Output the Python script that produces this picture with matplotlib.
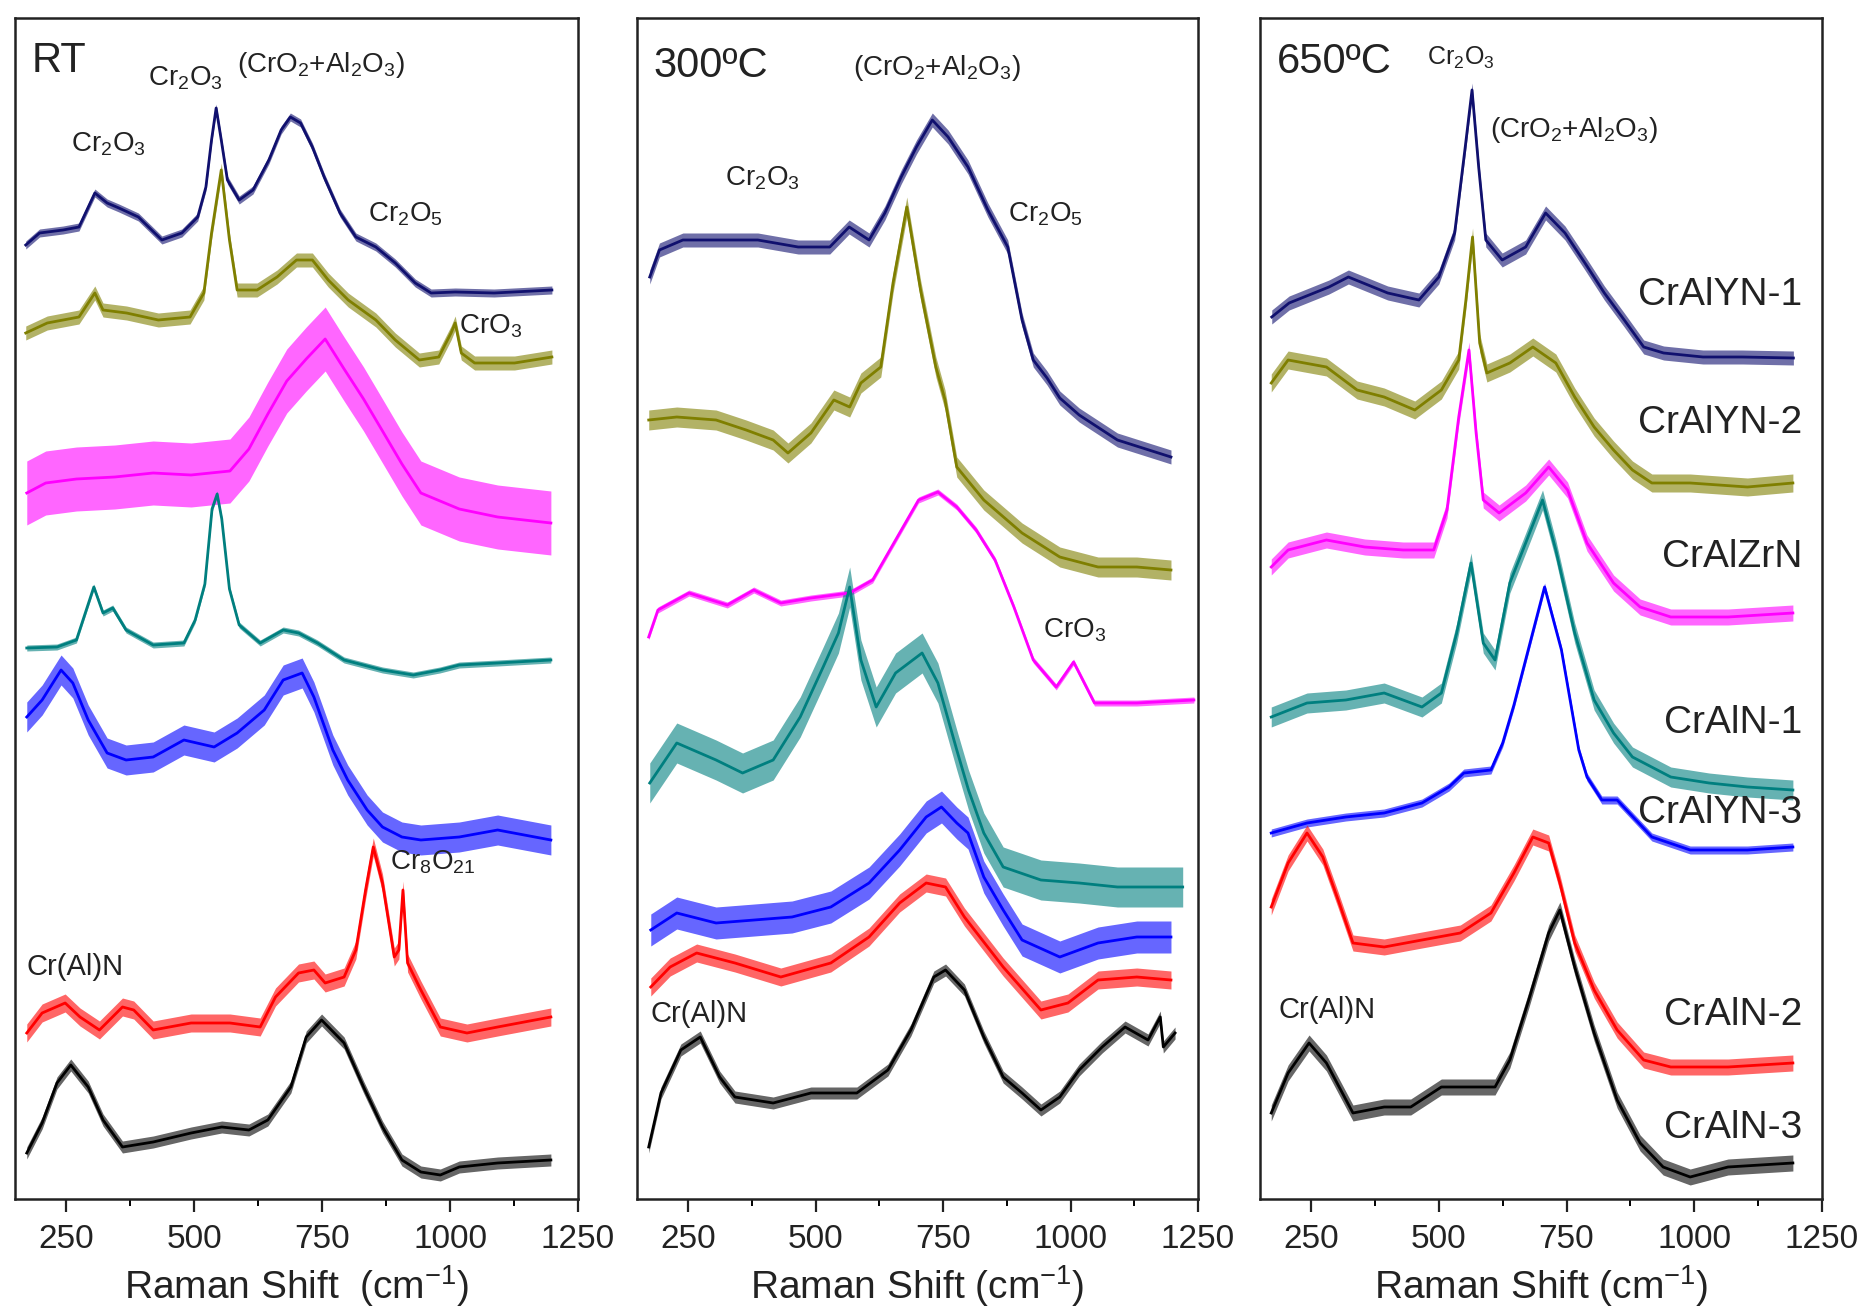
import matplotlib
matplotlib.use("Agg")
import matplotlib.pyplot as plt
from matplotlib.ticker import MultipleLocator

plt.rcParams['font.family'] = ['Liberation Sans', 'DejaVu Sans']
plt.rcParams['mathtext.fontset'] = 'custom'
plt.rcParams['mathtext.rm'] = 'Liberation Sans'
plt.rcParams['mathtext.it'] = 'Liberation Sans:italic'
plt.rcParams['mathtext.bf'] = 'Liberation Sans:bold'

# ---------------- Raman spectra (offset intensity, a.u.) ----------------
# Room temperature
RT_WN_CRALYN1 = [171, 198, 244, 275, 306, 330, 353, 391, 437, 476, 507, 523, 534, 543, 553, 565, 588, 615, 646, 670, 688, 708, 731, 754, 785, 816, 855, 893, 932, 963, 1010, 1086, 1199]
RT_I_CRALYN1 = [954, 966, 969, 972, 1006, 996, 991, 982, 959, 966, 982, 1012, 1059, 1091, 1059, 1019, 999, 1009, 1039, 1069, 1082, 1076, 1052, 1022, 986, 962, 952, 936, 916, 906, 907, 906, 909]
RT_WN_CRALYN2 = [171, 213, 275, 306, 322, 368, 430, 492, 519, 534, 553, 569, 584, 623, 662, 700, 731, 762, 801, 855, 893, 940, 978, 1002, 1010, 1022, 1048, 1126, 1199]
RT_I_CRALYN2 = [866, 876, 882, 906, 889, 886, 879, 882, 906, 966, 1029, 959, 909, 909, 922, 939, 939, 919, 899, 879, 859, 839, 842, 866, 876, 846, 836, 836, 842]
RT_WN_CRALZRN = [173, 210, 270, 345, 420, 494, 570, 607, 644, 681, 719, 756, 793, 831, 868, 906, 943, 1018, 1093, 1197]
RT_I_CRALZRN = [706, 716, 720, 722, 726, 724, 728, 750, 785, 818, 840, 860, 830, 800, 768, 735, 706, 690, 682, 676]
RT_WN_CRALN1 = [173, 232, 270, 304, 322, 341, 367, 420, 480, 502, 521, 535, 545, 554, 569, 588, 629, 674, 704, 741, 793, 868, 928, 980, 1018, 1093, 1197]
RT_I_CRALN1 = [551, 552, 559, 612, 586, 591, 569, 554, 556, 579, 615, 690, 705, 680, 610, 574, 556, 569, 566, 556, 539, 529, 524, 529, 534, 536, 539]
RT_WN_CRALYN3 = [173, 203, 240, 263, 293, 330, 367, 420, 480, 539, 584, 637, 674, 711, 734, 771, 800, 838, 868, 906, 943, 1018, 1093, 1197]
RT_I_CRALYN3 = [482, 499, 529, 516, 479, 446, 439, 442, 459, 452, 466, 489, 519, 526, 502, 449, 419, 389, 372, 362, 359, 362, 369, 359]
RT_WN_CRALN2 = [173, 203, 248, 277, 315, 360, 382, 420, 494, 570, 629, 659, 704, 734, 756, 793, 816, 835, 850, 868, 891, 900, 908, 917, 943, 981, 1033, 1093, 1197]
RT_I_CRALN2 = [166, 186, 196, 182, 169, 192, 189, 169, 176, 176, 172, 202, 226, 229, 216, 222, 249, 309, 352, 316, 242, 249, 309, 236, 209, 172, 166, 172, 182]
RT_WN_CRALN3 = [173, 203, 232, 259, 293, 322, 360, 420, 494, 554, 607, 644, 689, 719, 749, 793, 831, 868, 906, 943, 981, 1018, 1093, 1197]
RT_I_CRALN3 = [46, 76, 116, 134, 112, 79, 52, 57, 66, 72, 69, 79, 112, 162, 179, 156, 112, 72, 39, 27, 24, 32, 36, 39]

# 300 C
T300_WN_CRALYN1 = [175, 194, 240, 311, 387, 466, 528, 566, 605, 636, 668, 698, 729, 760, 799, 838, 877, 905, 927, 954, 979, 1017, 1092, 1197]
T300_I_CRALYN1 = [922, 949, 959, 959, 959, 952, 952, 972, 959, 986, 1022, 1052, 1079, 1062, 1032, 989, 952, 879, 839, 821, 801, 784, 759, 742]
T300_WN_CRALYN2 = [173, 228, 305, 364, 417, 446, 491, 536, 567, 589, 628, 652, 679, 706, 736, 754, 777, 830, 905, 979, 1054, 1130, 1197]
T300_I_CRALYN2 = [779, 782, 779, 769, 759, 746, 766, 799, 792, 816, 832, 916, 992, 909, 832, 799, 732, 699, 666, 642, 632, 632, 629]
T300_WN_CRALZRN = [173, 191, 252, 327, 379, 432, 491, 567, 612, 657, 702, 740, 777, 815, 852, 889, 927, 972, 1006, 1047, 1130, 1242]
T300_I_CRALZRN = [562, 589, 606, 594, 609, 596, 601, 606, 619, 659, 699, 707, 692, 669, 639, 592, 539, 512, 537, 496, 496, 499]
T300_WN_CRALN1 = [175, 228, 305, 357, 417, 470, 515, 545, 567, 589, 619, 657, 709, 740, 777, 800, 830, 868, 942, 1017, 1092, 1220]
T300_I_CRALN1 = [416, 456, 439, 426, 439, 482, 532, 566, 612, 539, 492, 526, 546, 516, 449, 409, 366, 332, 319, 316, 312, 312]
T300_WN_CRALYN3 = [177, 228, 305, 380, 454, 530, 605, 665, 717, 747, 777, 799, 830, 868, 905, 979, 1054, 1130, 1197]
T300_I_CRALYN3 = [269, 286, 276, 279, 282, 292, 316, 349, 382, 392, 376, 366, 322, 289, 259, 242, 256, 262, 262]
T300_WN_CRALN2 = [177, 215, 267, 342, 432, 530, 605, 665, 717, 755, 792, 868, 942, 995, 1054, 1130, 1197]
T300_I_CRALN2 = [212, 232, 246, 236, 222, 236, 262, 296, 316, 312, 282, 232, 189, 196, 219, 222, 219]
T300_WN_CRALN3 = [173, 197, 236, 274, 312, 342, 417, 491, 581, 642, 687, 732, 755, 792, 830, 868, 905, 942, 979, 1017, 1062, 1107, 1152, 1176, 1182, 1205]
T300_I_CRALN3 = [52, 106, 149, 162, 122, 102, 96, 106, 106, 129, 169, 222, 229, 209, 162, 122, 106, 89, 102, 129, 152, 172, 159, 182, 152, 166]

# 650 C
T650_WN_CRALYN1 = [173, 207, 285, 323, 400, 461, 500, 531, 551, 565, 578, 592, 624, 670, 709, 747, 786, 824, 863, 901, 940, 1017, 1094, 1194]
T650_I_CRALYN1 = [882, 896, 912, 922, 906, 899, 922, 966, 1049, 1109, 1032, 959, 939, 952, 986, 966, 936, 906, 879, 852, 846, 842, 842, 841]
T650_WN_CRALYN2 = [172, 205, 280, 340, 393, 453, 505, 539, 553, 566, 580, 594, 639, 684, 729, 766, 804, 842, 879, 917, 992, 1104, 1193]
T650_I_CRALYN2 = [816, 839, 832, 809, 802, 789, 809, 839, 899, 962, 856, 826, 836, 852, 836, 802, 772, 749, 729, 716, 716, 712, 716]
T650_WN_CRALZRN = [172, 205, 280, 355, 430, 490, 516, 539, 559, 573, 587, 618, 670, 715, 752, 790, 842, 894, 954, 1066, 1193]
T650_I_CRALZRN = [632, 649, 659, 652, 649, 649, 689, 782, 849, 766, 699, 686, 706, 732, 709, 656, 616, 592, 582, 582, 586]
T650_WN_CRALN1 = [172, 242, 318, 393, 467, 505, 535, 563, 587, 610, 639, 670, 703, 729, 766, 804, 842, 879, 954, 1029, 1104, 1193]
T650_I_CRALN1 = [482, 496, 499, 506, 492, 506, 566, 636, 556, 539, 616, 656, 699, 649, 566, 499, 466, 442, 422, 416, 412, 409]
T650_WN_CRALYN3 = [172, 242, 318, 393, 467, 520, 549, 602, 625, 647, 680, 707, 740, 774, 790, 819, 849, 917, 992, 1104, 1193]
T650_I_CRALYN3 = [366, 376, 382, 386, 396, 412, 426, 429, 456, 494, 559, 612, 549, 449, 422, 399, 399, 362, 349, 349, 352]
T650_WN_CRALN2 = [172, 205, 242, 273, 303, 332, 393, 467, 542, 602, 647, 684, 715, 737, 766, 804, 849, 901, 954, 1066, 1193]
T650_I_CRALN2 = [292, 336, 366, 342, 299, 256, 252, 259, 266, 286, 326, 362, 356, 316, 256, 209, 169, 139, 132, 132, 136]
T650_WN_CRALN3 = [172, 205, 246, 280, 332, 393, 445, 505, 610, 639, 676, 715, 737, 766, 804, 849, 894, 939, 992, 1066, 1193]
T650_I_CRALN3 = [86, 126, 156, 136, 86, 92, 92, 112, 112, 139, 199, 266, 289, 232, 166, 99, 56, 32, 22, 32, 36]

SAMPLES = ["CrAlYN-1", "CrAlYN-2", "CrAlZrN", "CrAlN-1", "CrAlYN-3", "CrAlN-2", "CrAlN-3"]
COLORS = ["#10106e", "#7f7f00", "#ff00ff", "#007f7f", "#0000ff", "#ff0000", "#000000"]

PANELS = [
    ("RT", [(RT_WN_CRALYN1, RT_I_CRALYN1), (RT_WN_CRALYN2, RT_I_CRALYN2), (RT_WN_CRALZRN, RT_I_CRALZRN),
            (RT_WN_CRALN1, RT_I_CRALN1), (RT_WN_CRALYN3, RT_I_CRALYN3), (RT_WN_CRALN2, RT_I_CRALN2),
            (RT_WN_CRALN3, RT_I_CRALN3)]),
    ("300ºC", [(T300_WN_CRALYN1, T300_I_CRALYN1), (T300_WN_CRALYN2, T300_I_CRALYN2), (T300_WN_CRALZRN, T300_I_CRALZRN),
               (T300_WN_CRALN1, T300_I_CRALN1), (T300_WN_CRALYN3, T300_I_CRALYN3), (T300_WN_CRALN2, T300_I_CRALN2),
               (T300_WN_CRALN3, T300_I_CRALN3)]),
    ("650ºC", [(T650_WN_CRALYN1, T650_I_CRALYN1), (T650_WN_CRALYN2, T650_I_CRALYN2), (T650_WN_CRALZRN, T650_I_CRALZRN),
               (T650_WN_CRALN1, T650_I_CRALN1), (T650_WN_CRALYN3, T650_I_CRALYN3), (T650_WN_CRALN2, T650_I_CRALN2),
               (T650_WN_CRALN3, T650_I_CRALN3)]),
]

# half-width of the shaded band that stands in for the detector noise of each trace
NOISE = [
    [4, 7, 32, 3, 15, 9, 6],
    [7, 10, 3, 20, 16, 9, 6],
    [7, 9, 8, 10, 4, 8, 8],
]

# peak assignments: (text, x, y, fontsize)
ANNOTATIONS = [
    [("RT", 183, 1127, 30), (r"Cr$_2$O$_3$", 410, 1114, 20), (r"(CrO$_2$+Al$_2$O$_3$)", 584, 1127, 20),
     (r"Cr$_2$O$_3$", 260, 1047, 20), (r"Cr$_2$O$_5$", 840, 977, 20), (r"CrO$_3$", 1017, 866, 20),
     (r"Cr$_8$O$_{21}$", 883, 330, 20), ("Cr(Al)N", 173, 224, 21)],
    [("300ºC", 182, 1122, 30), (r"(CrO$_2$+Al$_2$O$_3$)", 573, 1124, 20), (r"Cr$_2$O$_3$", 322, 1014, 20),
     (r"Cr$_2$O$_5$", 877, 977, 20), (r"CrO$_3$", 946, 562, 20), ("Cr(Al)N", 177, 177, 21)],
    [("650ºC", 184, 1126, 30), (r"Cr$_2$O$_3$", 477, 1134, 18), (r"(CrO$_2$+Al$_2$O$_3$)", 600, 1062, 20),
     ("Cr(Al)N", 187, 181, 21)],
]
SAMPLE_LABEL_Y = [894, 766, 632, 466, 376, 174, 61]
XLABELS = [r"Raman Shift  (cm$^{-1}$)", r"Raman Shift (cm$^{-1}$)", r"Raman Shift (cm$^{-1}$)"]

fig = plt.figure(figsize=(18.68, 13.14), dpi=100)
lefts = [15 / 1868, 637 / 1868, 1260 / 1868]
widths = [563 / 1868, 561 / 1868, 562 / 1868]
bottom = (1314 - 1199) / 1314
height = (1199 - 18) / 1314

for p, (title, curves) in enumerate(PANELS):
    ax = fig.add_axes([lefts[p], bottom, widths[p], height])
    for k, (wn, inten) in enumerate(curves):
        n = NOISE[p][k]
        lo = [v - n for v in inten]
        hi = [v + n for v in inten]
        ax.fill_between(wn, lo, hi, color=COLORS[k], alpha=0.6, lw=0)
        ax.plot(wn, inten, color=COLORS[k], lw=2.0)
    ax.set_xlim(150, 1250)
    ax.set_ylim(0, 1181)
    ax.xaxis.set_major_locator(MultipleLocator(250))
    ax.xaxis.set_minor_locator(MultipleLocator(125))
    ax.set_yticks([])
    ax.tick_params(axis='x', which='major', direction='out', length=9, width=1.6,
                   labelsize=24, pad=9, colors='#222222')
    ax.tick_params(axis='x', which='minor', direction='out', length=5, width=1.4)
    for s in ax.spines.values():
        s.set_linewidth(1.8)
        s.set_color('#222222')
    ax.set_xlabel(XLABELS[p], fontsize=28, labelpad=6, color='#222222')
    for txt, x, y, fs in ANNOTATIONS[p]:
        ax.text(x, y, txt, fontsize=fs, ha='left', va='baseline', color='#222222')
    if p == 2:
        for name, y in zip(SAMPLES, SAMPLE_LABEL_Y):
            ax.text(1212, y, name, fontsize=28, ha='right', va='baseline', color='#222222')

fig.savefig("out.png", dpi=100)
